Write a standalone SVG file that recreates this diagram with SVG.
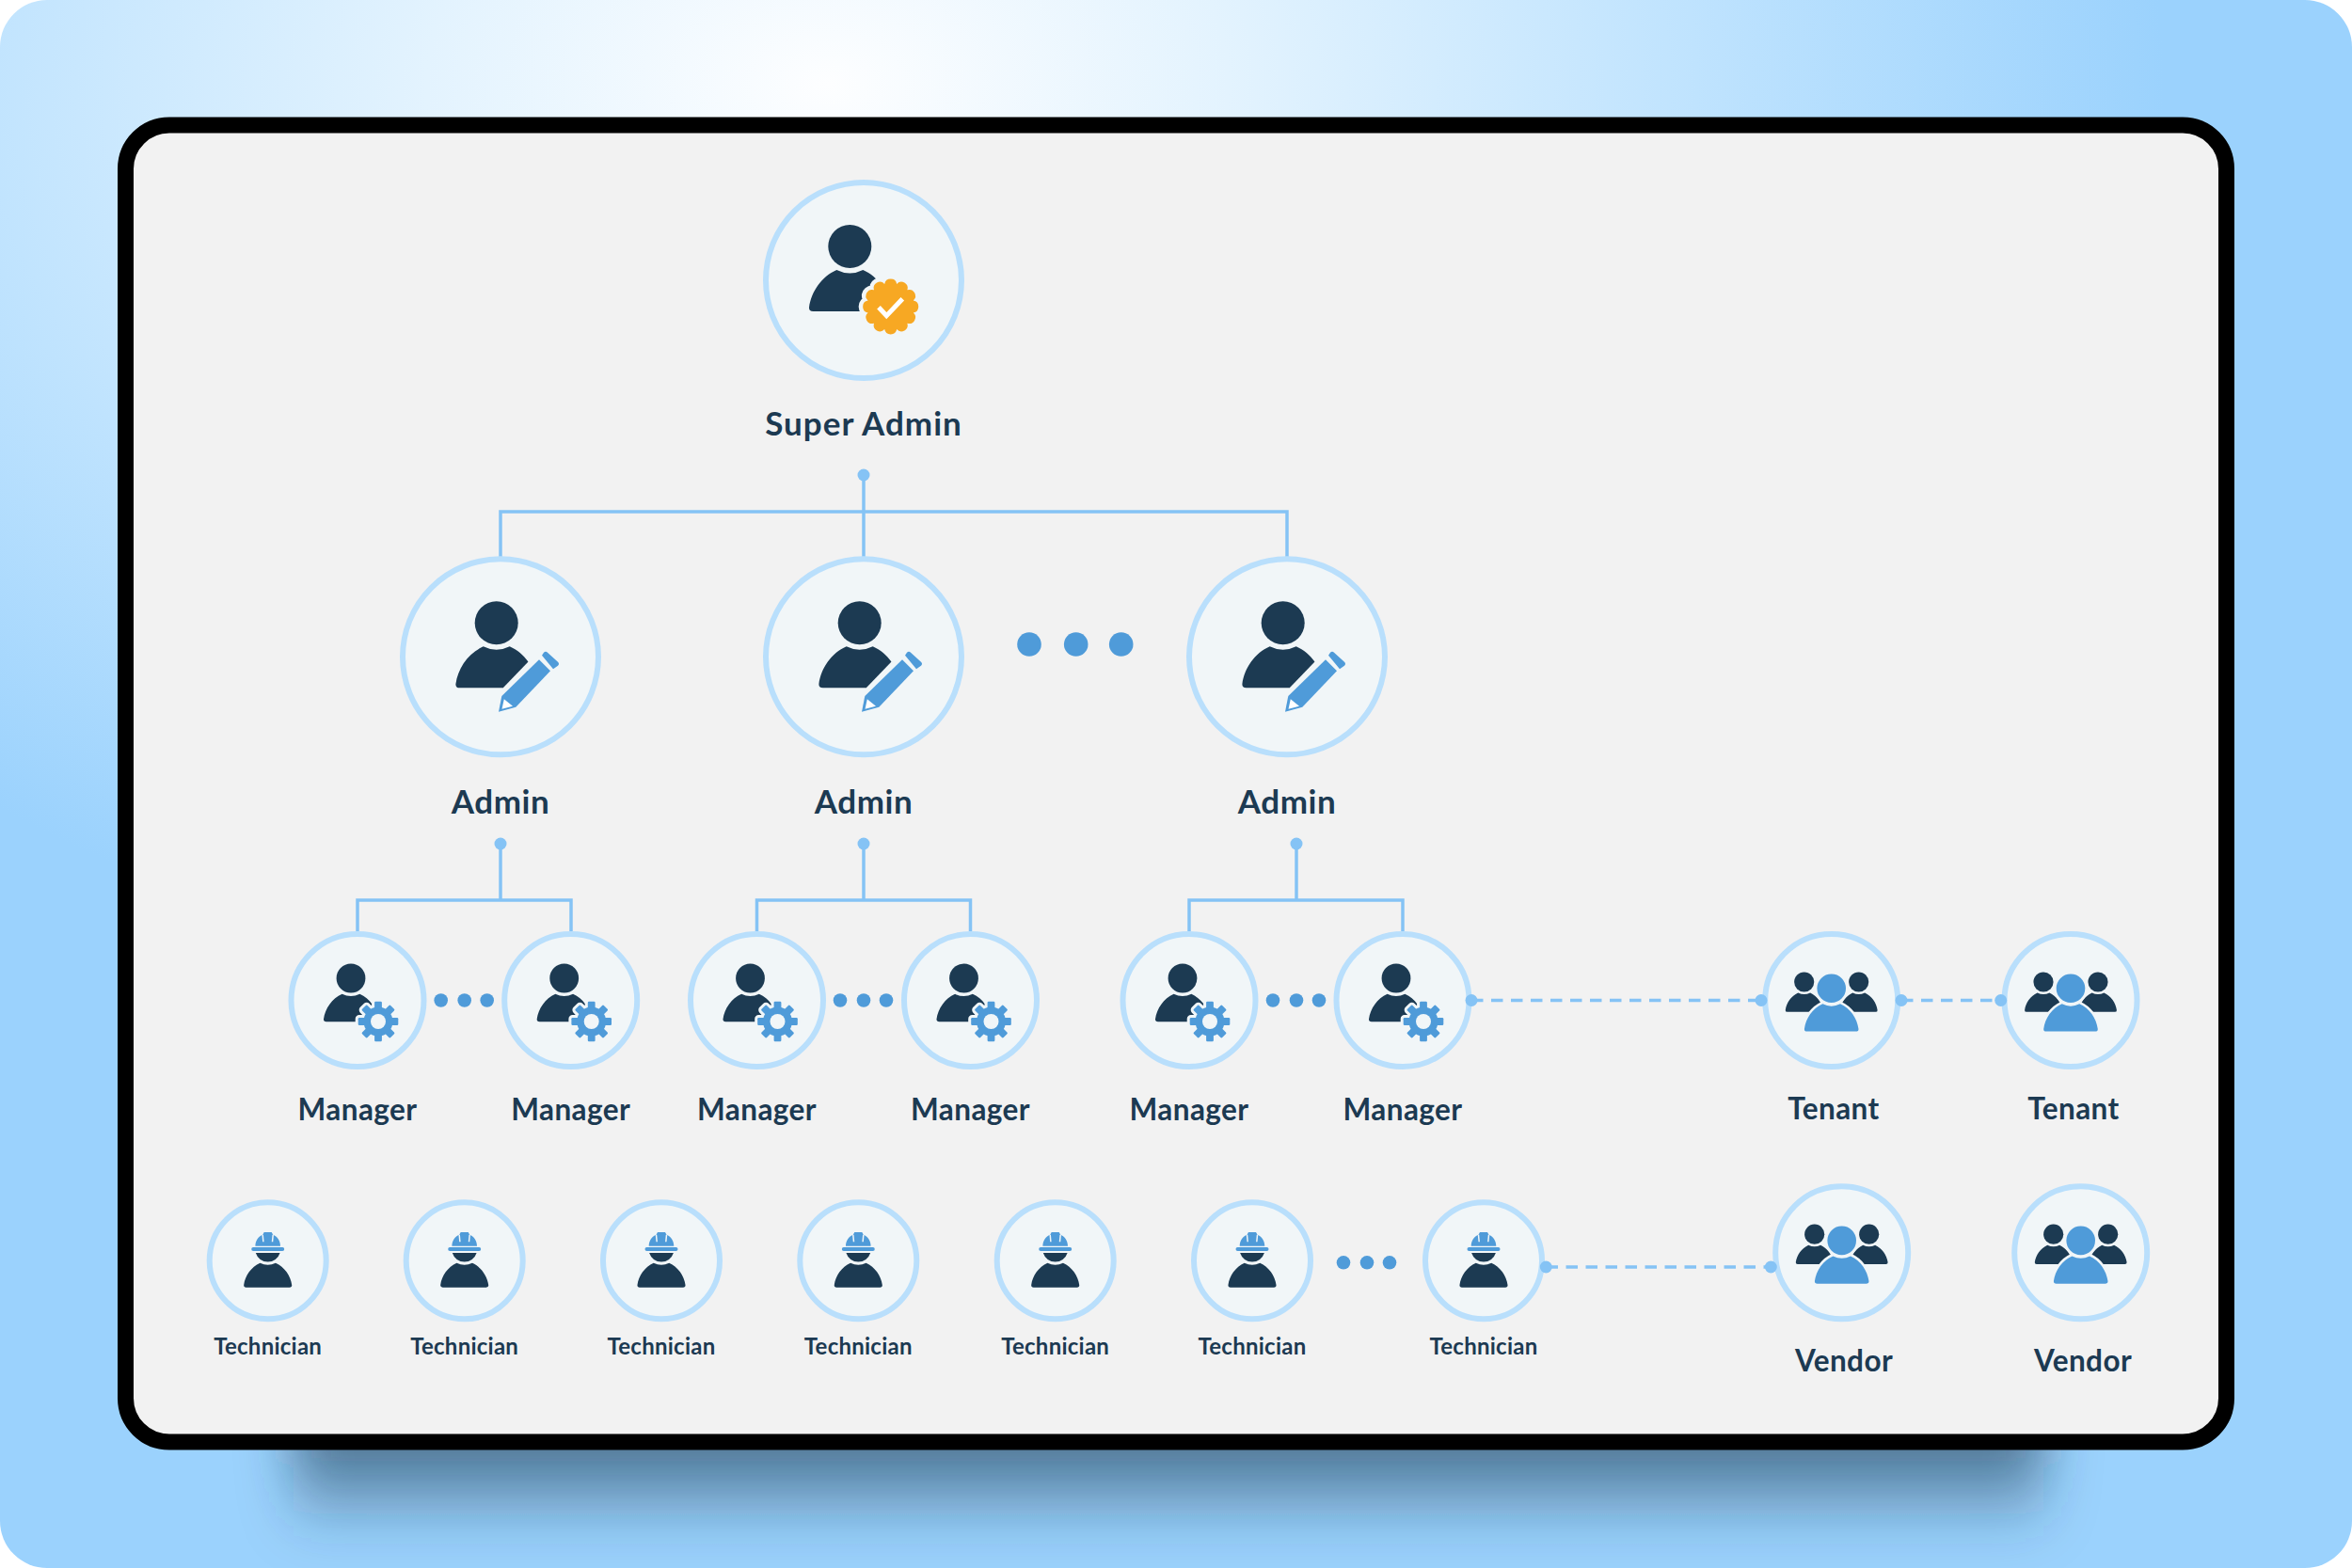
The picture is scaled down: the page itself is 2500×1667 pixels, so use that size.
<svg xmlns="http://www.w3.org/2000/svg" width="2500" height="1667" viewBox="0 0 2500 1667">
<style>
.n{fill:#f1f6f8;stroke:#b9dffc;stroke-width:6}
.d{fill:#1c3a52}
.b{fill:#4f9bd9}
.p{fill:#f1f6f8}
.o{fill:#f1f6f8;stroke:#f1f6f8;stroke-linejoin:round}
.c{fill:none;stroke:#85c3f5;stroke-width:3.5}
.dash{fill:none;stroke:#85c3f5;stroke-width:3.5;stroke-dasharray:12.5 8.5}
.e{fill:#85c3f5}
text{font-family:"Lato","Liberation Sans",sans-serif;font-weight:700;fill:#1c3a52;text-anchor:middle}
.t0{font-size:35px;letter-spacing:1px}
.t1{font-size:35px;letter-spacing:.6px}
.t2{font-size:31.5px;letter-spacing:.4px}
.t3{font-size:24px;letter-spacing:.25px}
</style>
<defs>
<radialGradient id="bg2" gradientUnits="userSpaceOnUse" cx="0" cy="0" r="1" gradientTransform="translate(880 90) scale(1420 980)">
<stop offset="0" stop-color="#fdfeff"/><stop offset=".3" stop-color="#e3f3fe"/><stop offset=".65" stop-color="#bfe3fe"/><stop offset="1" stop-color="#9bd2fd"/>
</radialGradient>
<linearGradient id="sh" x1="0" y1="0" x2="0" y2="1"><stop offset="0" stop-color="#1c3a52" stop-opacity=".66"/><stop offset=".5" stop-color="#1c3a52" stop-opacity=".62"/><stop offset="1" stop-color="#1c3a52" stop-opacity="0"/></linearGradient>
<filter id="blur" x="-6%" y="-40%" width="112%" height="180%"><feGaussianBlur stdDeviation="28"/></filter>
<path id="body" d="M-43.3 65C-41 48-30 32-14 25Q0 32 14 25C30 32 41 48 43.3 65Q43.5 69 39 69L-39 69Q-43.5 69-43.3 65Z"/>
<g id="person"><circle cx="0" cy="0" r="23"/><use href="#body"/></g>
<path id="scallop" d="M24.1 6.5A6.6 6.6 0 0 1 17.7 17.7A6.6 6.6 0 0 1 6.5 24.1A6.6 6.6 0 0 1-6.5 24.1A6.6 6.6 0 0 1-17.7 17.7A6.6 6.6 0 0 1-24.1 6.5A6.6 6.6 0 0 1-24.1-6.5A6.6 6.6 0 0 1-17.7-17.7A6.6 6.6 0 0 1-6.5-24.1A6.6 6.6 0 0 1 6.5-24.1A6.6 6.6 0 0 1 17.7-17.7A6.6 6.6 0 0 1 24.1-6.5A6.6 6.6 0 0 1 24.1 6.5Z"/>
<g id="icon-super">
<use href="#person" class="d" x="-14.7" y="-36"/>
<use href="#scallop" class="o" stroke-width="9" x="28.7" y="28"/>
<use href="#scallop" fill="#f7a823" x="28.7" y="28"/>
<path d="M16 28.7L24.3 37.7L41.3 19.7" fill="none" stroke="#fff" stroke-width="5"/>
</g>
<g id="icon-admin">
<use href="#person" class="d" x="-4.3" y="-36"/>
<path class="p" d="M30 4.7L3 32.7L3 70L60 70L60 4.7Z"/>
<path class="b" d="M-2 58.4L1.3 41.7L41 3L53 15L16.3 53.4Z"/>
<path fill="#fff" d="M1.5 55.5L3.8 45L13 52.5Z"/>
<path class="b" d="M44 -1.5L46 -4.5Q48 -6.5 50 -4.5L61 5.5Q63 7.5 61 9.5L56 13Z"/>
</g>
<g id="gear-shape">
<circle r="15.5"/>
<rect x="-3.9" y="-21.3" width="7.8" height="42.6" rx="1.2"/><rect x="-3.9" y="-21.3" width="7.8" height="42.6" rx="1.2" transform="rotate(45)"/><rect x="-3.9" y="-21.3" width="7.8" height="42.6" rx="1.2" transform="rotate(90)"/><rect x="-3.9" y="-21.3" width="7.8" height="42.6" rx="1.2" transform="rotate(135)"/>
</g>
<g id="icon-manager">
<use href="#person" class="d" transform="translate(-7 -23.5) scale(.67)"/>
<g transform="translate(22 22.5)">
<use href="#gear-shape" class="o" stroke-width="6"/>
<use href="#gear-shape" class="b"/>
<circle class="p" r="8"/>
</g>
</g>
<g id="icon-group">
<use href="#person" class="d" transform="translate(-29 -19.5) scale(.46)"/>
<use href="#person" class="d" transform="translate(29 -19.5) scale(.46)"/>
<g transform="translate(0 -12.8) scale(.665)">
<use href="#person" class="o" stroke-width="8"/>
<use href="#person" class="b"/>
</g>
</g>
<g id="icon-tech">
<path class="d" d="M-12.9 -8.3H12.9A13.5 13.5 0 0 1-12.9 -8.3Z"/>
<use href="#body" class="d" transform="translate(0 -12.3) scale(.59)"/>
<rect class="b" x="-17.5" y="-14.3" width="35" height="4" rx="2"/>
<path class="b" d="M-13.3 -15.6C-13.3 -21-10-26-5.5-27.5L-4-30.3L4-30.3L5.5-27.5C10-26 13.3-21 13.3-15.6Z"/>
<path d="M-5.5 -27.5L-4.8 -20M5.5 -27.5L4.8 -20" stroke="#f1f6f8" stroke-width="1.5" fill="none"/>
</g>
</defs>

<g id="background">
<rect width="2500" height="1667" rx="50" fill="url(#bg2)"/>
<rect x="312" y="1440" width="1860" height="195" fill="url(#sh)" filter="url(#blur)"/>
<rect x="133.5" y="133" width="2233" height="1400" rx="46.5" fill="#f2f2f2" stroke="#000" stroke-width="17"/>
</g>

<g id="connectors">
<path class="c" d="M918 505V594M532 594V544H1368V594"/>
<path class="c" d="M532 897V957M380 990V957H607V990"/>
<path class="c" d="M918 897V957M804.5 990V957H1031.5V990"/>
<path class="c" d="M1378 897V957M1264 990V957H1491V990"/>
<path class="dash" d="M1564 1063.5H1872"/>
<path class="dash" d="M2021 1063.5H2127"/>
<path class="dash" d="M1643.5 1347H1882.5"/>
</g>

<g id="ellipsis-1" class="b"><circle cx="1094" cy="685" r="12.8"/><circle cx="1143.7" cy="685" r="12.8"/><circle cx="1191.7" cy="685" r="12.8"/></g>
<g id="ellipsis-2" class="b"><circle cx="468.7" cy="1063.5" r="7.3"/><circle cx="493.7" cy="1063.5" r="7.3"/><circle cx="517.7" cy="1063.5" r="7.3"/></g>
<g id="ellipsis-3" class="b"><circle cx="893" cy="1063.5" r="7.3"/><circle cx="918" cy="1063.5" r="7.3"/><circle cx="942" cy="1063.5" r="7.3"/></g>
<g id="ellipsis-4" class="b"><circle cx="1353" cy="1063.5" r="7.3"/><circle cx="1378" cy="1063.5" r="7.3"/><circle cx="1402" cy="1063.5" r="7.3"/></g>
<g id="ellipsis-5" class="b"><circle cx="1428" cy="1342.3" r="7.3"/><circle cx="1453" cy="1342.3" r="7.3"/><circle cx="1477" cy="1342.3" r="7.3"/></g>

<g id="super-admin"><g transform="translate(918 298)"><circle class="n" r="104"/><use href="#icon-super"/></g><text class="t0" x="918" y="463">Super Admin</text></g>

<g id="admin-1"><g transform="translate(532 698.3)"><circle class="n" r="104"/><use href="#icon-admin"/></g><text class="t1" x="532" y="865">Admin</text></g>
<g id="admin-2"><g transform="translate(918 698.3)"><circle class="n" r="104"/><use href="#icon-admin"/></g><text class="t1" x="918" y="865">Admin</text></g>
<g id="admin-3"><g transform="translate(1368 698.3)"><circle class="n" r="104"/><use href="#icon-admin"/></g><text class="t1" x="1368" y="865">Admin</text></g>

<g id="manager-1"><g transform="translate(380 1063.5)"><circle class="n" r="70.5"/><use href="#icon-manager"/></g><text class="t2" x="380" y="1191">Manager</text></g>
<g id="manager-2"><g transform="translate(606.7 1063.5)"><circle class="n" r="70.5"/><use href="#icon-manager"/></g><text class="t2" x="606.7" y="1191">Manager</text></g>
<g id="manager-3"><g transform="translate(804.5 1063.5)"><circle class="n" r="70.5"/><use href="#icon-manager"/></g><text class="t2" x="804.5" y="1191">Manager</text></g>
<g id="manager-4"><g transform="translate(1031.5 1063.5)"><circle class="n" r="70.5"/><use href="#icon-manager"/></g><text class="t2" x="1031.5" y="1191">Manager</text></g>
<g id="manager-5"><g transform="translate(1264 1063.5)"><circle class="n" r="70.5"/><use href="#icon-manager"/></g><text class="t2" x="1264" y="1191">Manager</text></g>
<g id="manager-6"><g transform="translate(1491 1063.5)"><circle class="n" r="70.5"/><use href="#icon-manager"/></g><text class="t2" x="1491" y="1191">Manager</text></g>

<g id="tenant-1"><g transform="translate(1946.7 1063.5)"><circle class="n" r="70.5"/><use href="#icon-group"/></g><text class="t2" x="1949" y="1189.5">Tenant</text></g>
<g id="tenant-2"><g transform="translate(2201 1063.5)"><circle class="n" r="70.5"/><use href="#icon-group"/></g><text class="t2" x="2204" y="1189.5">Tenant</text></g>

<g id="technician-1"><g transform="translate(284.7 1340.3)"><circle class="n" r="62"/><use href="#icon-tech"/></g><text class="t3" x="284.7" y="1439.8">Technician</text></g>
<g id="technician-2"><g transform="translate(493.7 1340.3)"><circle class="n" r="62"/><use href="#icon-tech"/></g><text class="t3" x="493.7" y="1439.8">Technician</text></g>
<g id="technician-3"><g transform="translate(703 1340.3)"><circle class="n" r="62"/><use href="#icon-tech"/></g><text class="t3" x="703" y="1439.8">Technician</text></g>
<g id="technician-4"><g transform="translate(912.3 1340.3)"><circle class="n" r="62"/><use href="#icon-tech"/></g><text class="t3" x="912.3" y="1439.8">Technician</text></g>
<g id="technician-5"><g transform="translate(1121.7 1340.3)"><circle class="n" r="62"/><use href="#icon-tech"/></g><text class="t3" x="1121.7" y="1439.8">Technician</text></g>
<g id="technician-6"><g transform="translate(1331 1340.3)"><circle class="n" r="62"/><use href="#icon-tech"/></g><text class="t3" x="1331" y="1439.8">Technician</text></g>
<g id="technician-7"><g transform="translate(1577 1340.3)"><circle class="n" r="62"/><use href="#icon-tech"/></g><text class="t3" x="1577" y="1439.8">Technician</text></g>

<g id="vendor-1"><g transform="translate(1957.7 1331.7)"><circle class="n" r="70.5"/><use href="#icon-group"/></g><text class="t2" x="1960" y="1458">Vendor</text></g>
<g id="vendor-2"><g transform="translate(2211.7 1331.7)"><circle class="n" r="70.5"/><use href="#icon-group"/></g><text class="t2" x="2214" y="1458">Vendor</text></g>

<g id="connector-dots" class="e">
<circle cx="918" cy="505" r="6.5"/>
<circle cx="532" cy="897" r="6.5"/><circle cx="918" cy="897" r="6.5"/><circle cx="1378" cy="897" r="6.5"/>
<circle cx="1564" cy="1063.5" r="6.5"/><circle cx="1872" cy="1063.5" r="6.5"/><circle cx="2021" cy="1063.5" r="6.5"/><circle cx="2126.7" cy="1063.5" r="6.5"/>
<circle cx="1643.3" cy="1347" r="6.5"/><circle cx="1882.3" cy="1347" r="6.5"/>
</g>
</svg>
